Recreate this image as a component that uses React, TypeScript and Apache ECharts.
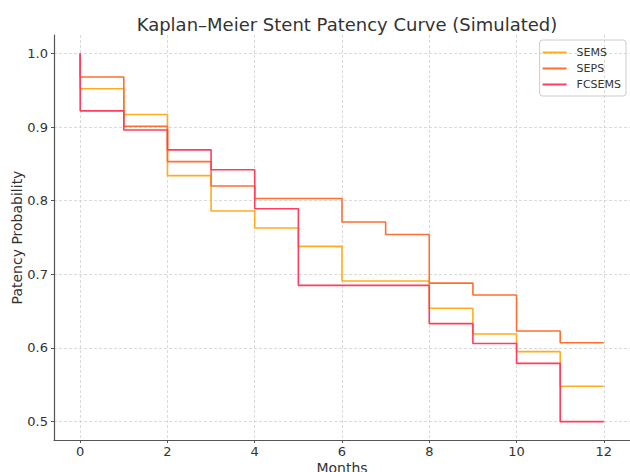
import React, { useEffect, useRef } from "react";
import * as echarts from "echarts";

const months = [0, 1, 2, 3, 4, 5, 6, 7, 8, 9, 10, 11, 12];
const semsValues = [0.952, 0.917, 0.834, 0.786, 0.763, 0.738, 0.691, 0.691, 0.654, 0.619, 0.595, 0.548, 0.548];
const sepsValues = [0.968, 0.901, 0.853, 0.820, 0.803, 0.803, 0.771, 0.754, 0.688, 0.672, 0.623, 0.607, 0.607];
const fcsemsValues = [0.922, 0.896, 0.869, 0.842, 0.789, 0.685, 0.685, 0.685, 0.633, 0.606, 0.579, 0.500, 0.500];
const xTicks = [0, 2, 4, 6, 8, 10, 12];
const yTicks = [0.5, 0.6, 0.7, 0.8, 0.9, 1.0];

const seriesDefs = [
  { name: "SEMS", values: semsValues, color: "#FFAD1F" },
  { name: "SEPS", values: sepsValues, color: "#FF6F31" },
  { name: "FCSEMS", values: fcsemsValues, color: "#FF3D5E" },
];

const FONT = "DejaVu Sans";

export default function App() {
  const ref = useRef<HTMLDivElement>(null);
  useEffect(() => {
    const chart = echarts.init(ref.current!, null, { renderer: "svg" });
    const gridLine = { show: true, lineStyle: { color: "#d0d0d0", type: [3, 2], width: 0.8 } };
    chart.setOption({
      animation: false,
      textStyle: { fontFamily: FONT },
      title: {
        text: "Kaplan–Meier Stent Patency Curve (Simulated)",
        left: 342,
        textAlign: "center",
        top: 10,
        textStyle: { fontFamily: FONT, fontSize: 18, fontWeight: "normal", color: "#333333" },
      },
      legend: {
        orient: "vertical",
        right: 4,
        top: 40,
        padding: [7, 5, 6, 3],
        borderColor: "#cccccc",
        borderWidth: 1,
        borderRadius: 3,
        itemWidth: 24,
        itemHeight: 2,
        itemGap: 5,
        icon: "rect",
        textStyle: { fontFamily: FONT, fontSize: 11, color: "#333333", padding: [0, 0, 0, 5] },
        data: seriesDefs.map((s) => s.name),
      },
      grid: { left: 54, right: 0, top: 35, bottom: 32, containLabel: false, outerBoundsMode: "none" },
      xAxis: {
        type: "value",
        min: -0.6,
        max: 12.6,
        name: "Months",
        nameLocation: "middle",
        nameGap: 21,
        nameMoveOverlap: false,
        nameTextStyle: { fontFamily: FONT, fontSize: 14, color: "#333333" },
        axisLine: { show: true, onZero: false, lineStyle: { color: "#555555", width: 1.2 } },
        axisTick: { show: true, length: 3, customValues: xTicks, lineStyle: { color: "#555555" } },
        axisLabel: { customValues: xTicks, fontFamily: FONT, fontSize: 13, color: "#333333", margin: 5 },
        splitLine: { ...gridLine, customValues: xTicks },
      },
      yAxis: {
        type: "value",
        min: 0.475,
        max: 1.025,
        name: "Patency Probability",
        nameLocation: "middle",
        nameGap: 30,
        nameMoveOverlap: false,
        nameTextStyle: { fontFamily: FONT, fontSize: 14, color: "#333333" },
        axisLine: { show: true, onZero: false, lineStyle: { color: "#555555", width: 1.2 } },
        axisTick: { show: true, length: 3, customValues: yTicks, lineStyle: { color: "#555555" } },
        axisLabel: {
          customValues: yTicks,
          fontFamily: FONT,
          fontSize: 13,
          color: "#333333",
          margin: 6,
          formatter: (v: number) => v.toFixed(1),
        },
        splitLine: { ...gridLine, customValues: yTicks },
      },
      series: seriesDefs.map((s) => ({
        name: s.name,
        type: "line",
        step: "end",
        showSymbol: false,
        symbol: "none",
        color: s.color,
        lineStyle: { color: s.color, width: 1.6 },
        data: [[0, 1.0], ...months.map((m, i) => [m, s.values[i]])],
      })),
    });
    return () => chart.dispose();
  }, []);
  return <div ref={ref} style={{ width: 630, height: 472, position: "absolute", left: 0, top: 0 }} />;
}
